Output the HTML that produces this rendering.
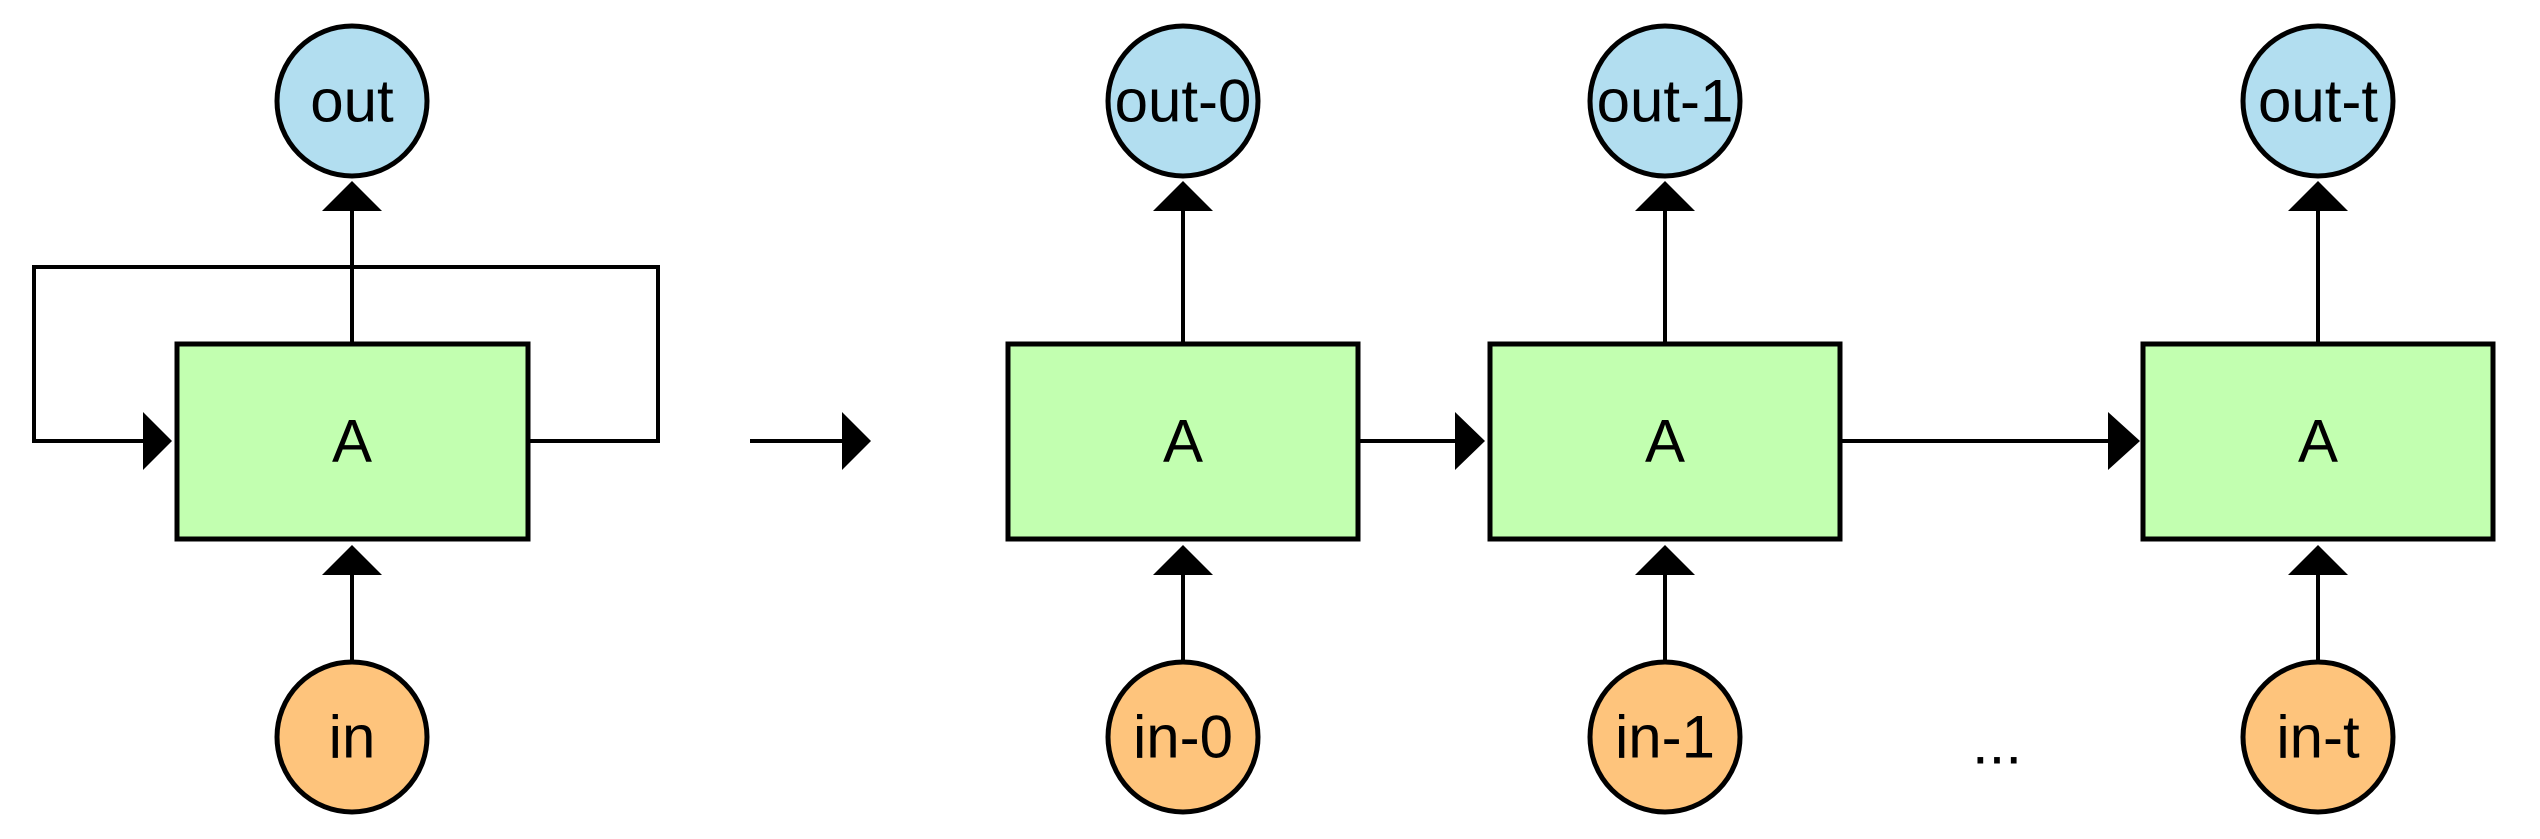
<!DOCTYPE html>
<html><head><meta charset="utf-8"><style>
html,body{margin:0;padding:0;background:#fff;}
svg{display:block;}
text{font-family:"Liberation Sans",sans-serif;font-size:60px;fill:#000;text-anchor:middle;dominant-baseline:central;}
</style></head><body>
<svg width="2540" height="839" viewBox="0 0 2540 839">
<g stroke="#000" stroke-width="4" fill="none">
 <polyline points="528,441 658,441 658,267 34,267 34,441 145,441"/>
 <line x1="750" y1="441" x2="845" y2="441"/>
 <line x1="1358" y1="441" x2="1462" y2="441"/>
 <line x1="1840" y1="441" x2="2112" y2="441"/>
 <line x1="352" y1="343" x2="352" y2="205"/>
 <line x1="352" y1="662" x2="352" y2="565"/>
 <line x1="1183" y1="343" x2="1183" y2="205"/>
 <line x1="1183" y1="662" x2="1183" y2="565"/>
 <line x1="1665" y1="343" x2="1665" y2="205"/>
 <line x1="1665" y1="662" x2="1665" y2="565"/>
 <line x1="2318" y1="343" x2="2318" y2="205"/>
 <line x1="2318" y1="662" x2="2318" y2="565"/>
</g>
<g fill="#000">
 <polygon points="143,412 172,441 143,470"/>
 <polygon points="842,412 871,441 842,470"/>
 <polygon points="1455,412 1485,441 1455,470"/>
 <polygon points="2108,412 2140,441 2108,470"/>
 <polygon points="322,211 352,181 382,211"/>
 <polygon points="322,575 352,545 382,575"/>
 <polygon points="1153,211 1183,181 1213,211"/>
 <polygon points="1153,575 1183,545 1213,575"/>
 <polygon points="1635,211 1665,181 1695,211"/>
 <polygon points="1635,575 1665,545 1695,575"/>
 <polygon points="2288,211 2318,181 2348,211"/>
 <polygon points="2288,575 2318,545 2348,575"/>
</g>
<g stroke="#000" stroke-width="5" fill="#c2ffb0">
 <rect x="177" y="344" width="351" height="195"/>
 <rect x="1008" y="344" width="350" height="195"/>
 <rect x="1490" y="344" width="350" height="195"/>
 <rect x="2143" y="344" width="350" height="195"/>
</g>
<g stroke="#000" stroke-width="5" fill="#b2def0">
 <circle cx="352" cy="101" r="75"/>
 <circle cx="1183" cy="101" r="75"/>
 <circle cx="1665" cy="101" r="75"/>
 <circle cx="2318" cy="101" r="75"/>
</g>
<g stroke="#000" stroke-width="5" fill="#fec47c">
 <circle cx="352" cy="737" r="75"/>
 <circle cx="1183" cy="737" r="75"/>
 <circle cx="1665" cy="737" r="75"/>
 <circle cx="2318" cy="737" r="75"/>
</g>
<text x="352" y="101">out</text>
<text x="1183" y="101">out-0</text>
<text x="1665" y="101">out-1</text>
<text x="2318" y="101">out-t</text>
<text x="352" y="441">A</text>
<text x="1183" y="441">A</text>
<text x="1665" y="441">A</text>
<text x="2318" y="441">A</text>
<text x="352" y="737">in</text>
<text x="1183" y="737">in-0</text>
<text x="1665" y="737">in-1</text>
<text x="2318" y="737">in-t</text>
<text x="1997" y="743">...</text>
</svg>
</body></html>
